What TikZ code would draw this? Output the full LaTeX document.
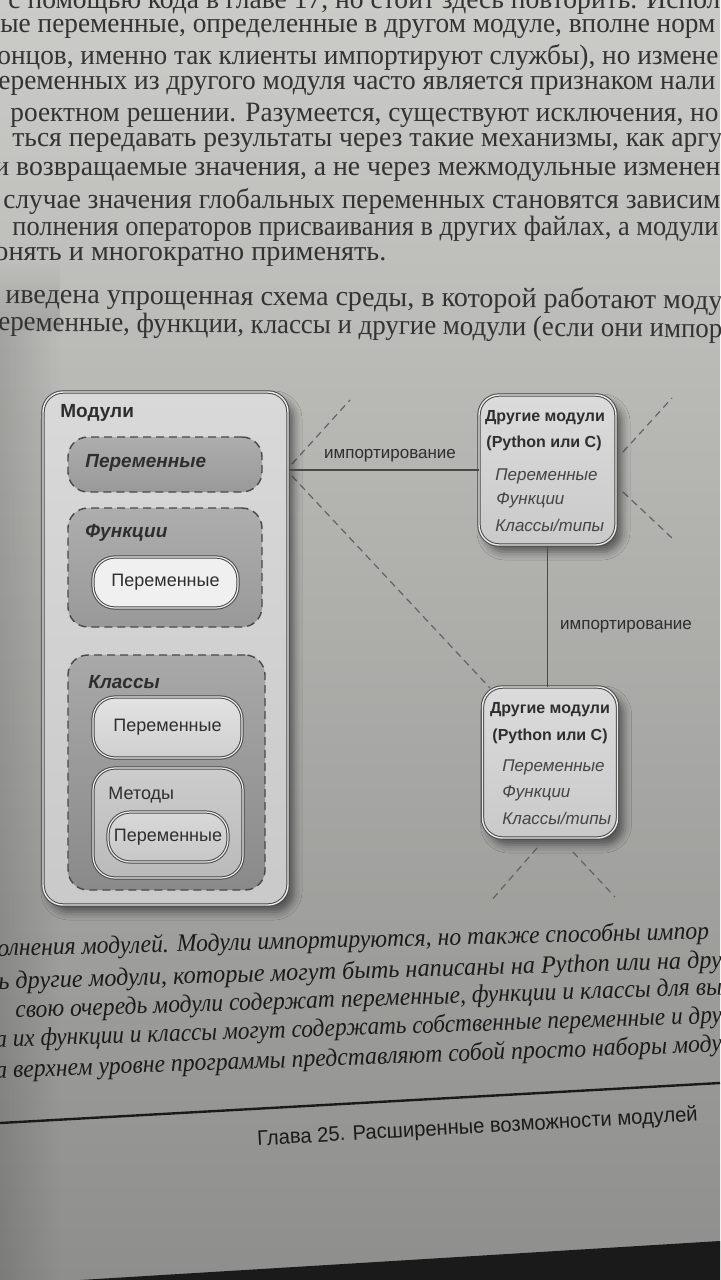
\documentclass[tikz,border=0pt]{standalone}
\usepackage{fontspec}
\setmainfont{Liberation Serif}
\setsansfont{Liberation Sans}
\usepackage{graphicx}
\usetikzlibrary{shadows.blur,calc,fadings}
\newdimen\pxu \pxu=0.5pt
\definecolor{pgtop}{HTML}{CBCBC7}
\definecolor{pgmid}{HTML}{BCBCB8}
\definecolor{pgbot}{HTML}{8E8E8C}
\definecolor{inkbody}{HTML}{333333}
\definecolor{inkcap}{HTML}{1A1A1A}
\definecolor{bord}{HTML}{484848}
\definecolor{txt}{HTML}{2E2E2E}
\definecolor{txtit}{HTML}{444444}
\definecolor{dark}{HTML}{1A1A1A}
\tikzfading[name=edgefade, left color=transparent!0, right color=transparent!100]
\tikzfading[name=topfade, top color=transparent!100, bottom color=transparent!0]
\newcommand{\tline}[6][0]{\node[bodytext,rotate=#1] (#2) at (#3,#4) {\resizebox{#5\pxu}{\height}{#6}};}
\newcommand{\capline}[6][0]{\node[captext,rotate=#1] (#2) at (#3,#4) {\resizebox{#5\pxu}{\height}{#6}};}
\tikzset{
  bodytext/.style={anchor=west,inner sep=0pt,text=inkbody,font=\fontsize{14pt}{15pt}\selectfont},
  captext/.style={anchor=west,inner sep=0pt,text=inkcap,font=\itshape\fontsize{12.5pt}{14pt}\selectfont},
  footer/.style={anchor=west,inner sep=0pt,text=inkcap,font=\sffamily\fontsize{10.5pt}{12pt}\selectfont},
  shadowed/.style={blur shadow={shadow xshift=3pt,shadow yshift=-3.5pt,shadow blur radius=4pt,shadow opacity=50}},
  mainbox/.style={shadowed,draw=bord,double=white!92!black,double distance=0.7pt,line width=0.5pt,
     rounded corners=10pt,top color=white!85!black,bottom color=white!79!black,inner sep=0pt},
  rbox/.style={shadowed,draw=bord,double=white!92!black,double distance=0.7pt,line width=0.5pt,
     rounded corners=10pt,top color=white!86!black,bottom color=white!79!black,inner sep=0pt},
  dbox/.style={draw=bord,line width=0.7pt,dash pattern=on 4pt off 2.5pt,rounded corners=10pt,
     top color=white!68!black,bottom color=white!60!black,inner sep=0pt},
  ibox/.style={draw=bord,double=white!92!black,double distance=0.6pt,line width=0.5pt,
     rounded corners=11pt,inner sep=0pt,text=txt,font=\sffamily\fontsize{9pt}{11pt}\selectfont},
  boldlbl/.style={anchor=west,inner sep=0pt,text=txt,font=\sffamily\bfseries\fontsize{9.5pt}{11pt}\selectfont},
  bilbl/.style={anchor=west,inner sep=0pt,text=txt,font=\sffamily\bfseries\itshape\fontsize{9.5pt}{11pt}\selectfont},
  reglbl/.style={anchor=west,inner sep=0pt,text=txt,font=\sffamily\fontsize{9pt}{11pt}\selectfont},
  rhead/.style={inner sep=0pt,text=txt,font=\sffamily\bfseries\fontsize{8pt}{10pt}\selectfont},
  ritem/.style={anchor=west,inner sep=0pt,text=txtit,font=\sffamily\itshape\fontsize{8.5pt}{10pt}\selectfont},
  conntext/.style={inner sep=0pt,text=txt,font=\sffamily\fontsize{8.5pt}{10pt}\selectfont},
  conn/.style={draw=bord,line width=0.7pt},
  dline/.style={draw=bord!85,line width=0.6pt,dash pattern=on 3.5pt off 2.5pt}
}
\begin{document}
\begin{tikzpicture}[x=0.5pt,y=-0.5pt]
\useasboundingbox (0,0) rectangle (720,1280);
\clip (0,0) rectangle (720,1280);
% page
\shade[top color=pgtop,middle color=pgmid,bottom color=pgbot] (0,0) rectangle (720,1280);
\fill[black,opacity=0.13,path fading=edgefade] (0,330) rectangle (60,1280);
\fill[black,opacity=0.13,path fading=topfade] (0,260) rectangle (60,330);
\fill[dark] (80,1280) -- (360,1263) -- (720,1241) -- (720,1280) -- cycle;

% body text
\tline{t1}{8}{2}{712}{с помощью кода в главе 17, но стоит здесь повторить. Испол}
\tline{t2}{0}{29}{715}{ые переменные, определенные в другом модуле, вполне норм}
\tline{t3}{-3}{57}{721}{онцов, именно так клиенты импортируют службы), но измене}
\tline{t4}{-2}{86}{717}{еременных из другого модуля часто является признаком нали}
\tline{t5}{10}{115}{708}{роектном решении. Разумеется, существуют исключения, но}
\tline{t6}{12}{143}{710}{ться передавать результаты через такие механизмы, как аргу}
\tline{t7}{-6}{172}{726}{и возвращаемые значения, а не через межмодульные изменен}
\tline{t8}{3}{201}{717}{случае значения глобальных переменных становятся зависим}
\tline{t9}{12}{229}{706}{полнения операторов присваивания в других файлах, а модули}
\tline{t10}{-6}{257}{392}{онять и многократно применять.}
\tline[-0.5]{t11}{5}{296}{717}{иведена упрощенная схема среды, в которой работают моду}
\tline[-0.55]{t12}{-2}{324}{724}{еременные, функции, классы и другие модули (если они импор}

% connectors and dashed lines
\coordinate (d1a) at (292,464); \coordinate (d1b) at (350,400);
\coordinate (d2a) at (292,476); \coordinate (d2b) at (490,688);
\coordinate (d3a) at (623,452); \coordinate (d3b) at (672,398);
\coordinate (d4a) at (623,492); \coordinate (d4b) at (672,538);
\coordinate (d5a) at (537,848); \coordinate (d5b) at (490,902);
\coordinate (d6a) at (573,852); \coordinate (d6b) at (615,897);
\draw[dline] (d1a) -- (d1b);
\draw[dline] (d2a) -- (d2b);
\draw[dline] (d3a) -- (d3b);
\draw[dline] (d4a) -- (d4b);
\draw[dline] (d5a) -- (d5b);
\draw[dline] (d6a) -- (d6b);

% main module box
\node[mainbox,minimum width=122.5pt,minimum height=256.5pt] (main) at (165.5,648.5) {};
\node[boldlbl] (modlbl) at (60,413) {Модули};
\node[dbox,minimum width=97pt,minimum height=27.5pt] (vbox) at (165,464.5) {};
\node[bilbl] (vlbl) at (85,463) {Переменные};
\node[dbox,minimum width=97pt,minimum height=59.5pt] (fbox) at (165,567.5) {};
\node[bilbl] (flbl) at (85,533) {Функции};
\node[ibox,fill=white!94!black,minimum width=72.5pt,minimum height=25.5pt] (fvar) at (165.5,582.5) {Переменные};
\node[dbox,minimum width=98.5pt,minimum height=117.5pt,top color=white!66!black,bottom color=white!54!black] (cbox) at (166.5,772.5) {};
\node[bilbl] (clbl) at (88,682) {Классы};
\node[ibox,top color=white!89!black,bottom color=white!81!black,minimum width=74.5pt,minimum height=30.5pt] (cvar) at (167.5,727.5) {Переменные};
\node[ibox,top color=white!80!black,bottom color=white!73!black,minimum width=75pt,minimum height=55pt] (mbox) at (168,823) {};
\node[reglbl] (mlbl) at (108,795) {Методы};
\node[ibox,top color=white!85!black,bottom color=white!78!black,minimum width=60pt,minimum height=25pt] (mvar) at (168,837) {Переменные};

% other modules boxes
\node[rbox,minimum width=68.5pt,minimum height=75pt] (top) at (547.5,470) {};
\node[rbox,minimum width=67.5pt,minimum height=75.5pt] (bot) at (550,762.5) {};
\coordinate (hub) at (main.east |- top.west);
\draw[conn] (hub) -- (top.west);
\draw[conn] (top.south) -- (top.south |- bot.north);
\node[conntext] (imp1) at (390,456) {импортирование};
\node[conntext] (imp2) at (626,627) {импортирование};

\node[rhead] (th1) at (545,418) {Другие модули};
\node[rhead] (th2) at (544,443) {(Python или C)};
\node[ritem] (tv) at (495,476) {Переменные};
\node[ritem] (tf) at (496,500) {Функции};
\node[ritem] (tc) at (495,525) {Классы/типы};

\node[rhead] (bh1) at (550,710) {Другие модули};
\node[rhead] (bh2) at (550,736) {(Python или C)};
\node[ritem] (bv) at (502,767) {Переменные};
\node[ritem] (bf) at (502,793) {Функции};
\node[ritem] (bc) at (502,818) {Классы/типы};

% caption
\capline[1.4]{c1}{-3}{950}{712}{олнения модулей. Модули импортируются, но также способны импор}
\capline[1.7]{c2}{-2}{983}{724}{ь другие модули, которые могут быть написаны на Python или на дру}
\capline[1.9]{c3}{15}{1012}{707}{свою очередь модули содержат переменные, функции и классы для вы}
\capline[1.9]{c4}{-5}{1041}{727}{а их функции и классы могут содержать собственные переменные и дру}
\capline[2.1]{c5}{-5}{1072}{727}{а верхнем уровне программы представляют собой просто наборы моду}

% footer
\draw[draw=inkcap,line width=1.2pt] (0,1123) -- (720,1083);
\node[footer,rotate=3.2] (foot) at (257,1140) {\resizebox{441\pxu}{\height}{Глава 25. Расширенные возможности модулей}};
\end{tikzpicture}
\end{document}
